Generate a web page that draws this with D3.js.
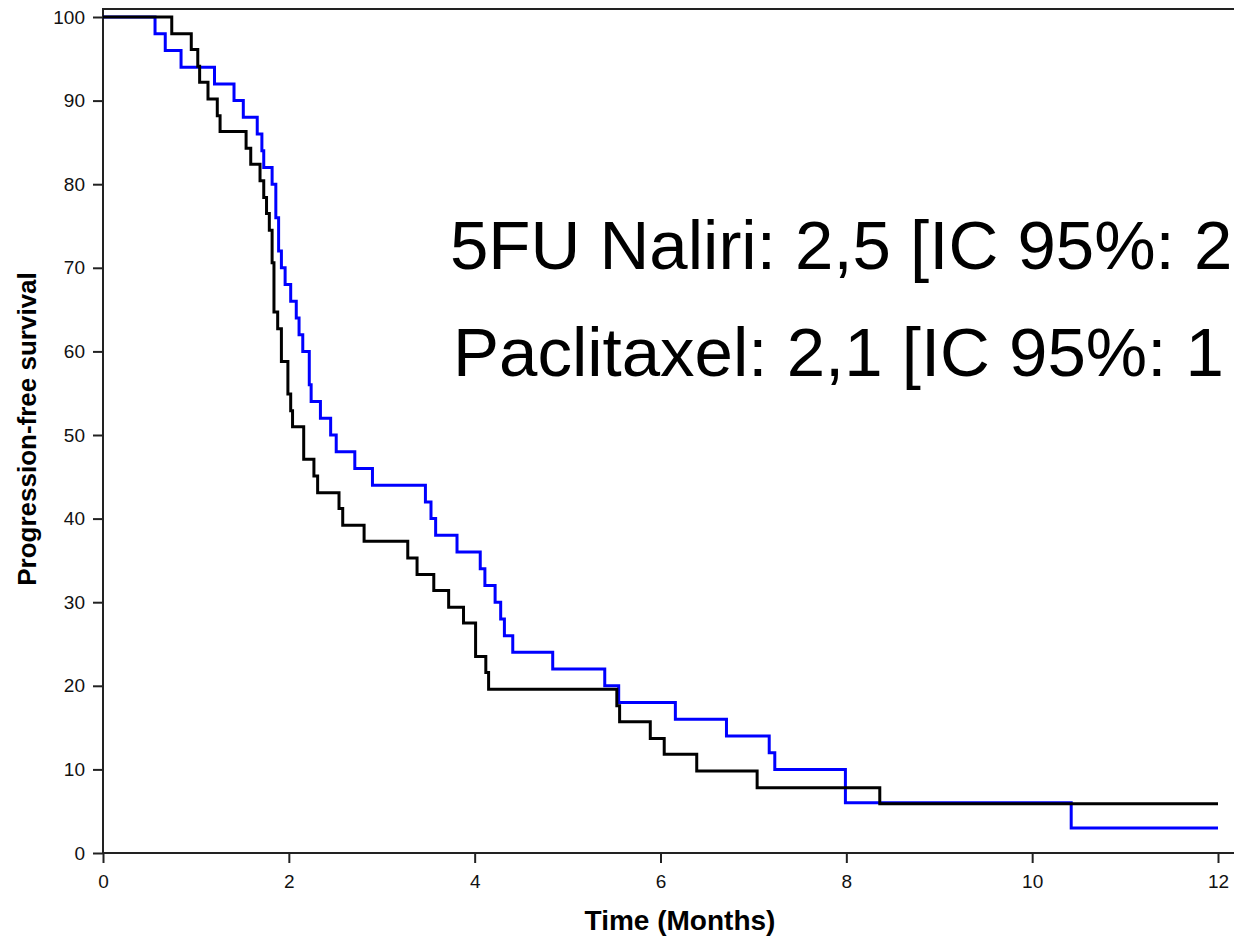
<!DOCTYPE html>
<html>
<head>
<meta charset="utf-8">
<script src="https://cdn.jsdelivr.net/npm/d3@7"></script>
<style>
  body { margin: 0; background: #fff; overflow: hidden; }
  svg { display: block; font-family: "Liberation Sans", Arial, sans-serif; }
</style>
</head>
<body>
<svg id="chart" width="1234" height="937"></svg>
<script>
// 5FU Naliri (blue)
let naliriTimes = [0, 0.56, 0.67, 0.84, 1.20, 1.41, 1.51, 1.66, 1.71, 1.73, 1.82, 1.86, 1.89, 1.92, 1.96, 2.02, 2.08, 2.11, 2.15, 2.22, 2.24, 2.34, 2.45, 2.51, 2.71, 2.90, 3.47, 3.53, 3.58, 3.81, 4.06, 4.11, 4.22, 4.28, 4.32, 4.41, 4.84, 5.40, 5.55, 6.16, 6.71, 7.17, 7.23, 7.99, 10.42, 12]
let naliriSurv  = [100, 98, 96, 94, 92, 90, 88, 86, 84, 82, 80, 76, 72, 70, 68, 66, 64, 62, 60, 56, 54, 52, 50, 48, 46, 44, 42, 40, 38, 36, 34, 32, 30, 28, 26, 24, 22, 20, 18, 16, 14, 12, 10, 6, 3, 3]

// Paclitaxel (black)
let pacliTimes = [0, 0.74, 0.95, 1.02, 1.04, 1.13, 1.23, 1.26, 1.54, 1.59, 1.69, 1.73, 1.76, 1.79, 1.82, 1.84, 1.88, 1.92, 1.99, 2.02, 2.04, 2.16, 2.27, 2.31, 2.54, 2.58, 2.81, 3.28, 3.38, 3.56, 3.72, 3.88, 4.01, 4.12, 4.15, 5.53, 5.56, 5.89, 6.04, 6.39, 7.04, 8.36, 12]
let pacliSurv  = [100, 98, 96.1, 94.1, 92.2, 90.2, 88.2, 86.3, 84.3, 82.4, 80.4, 78.4, 76.5, 74.5, 70.6, 64.7, 62.7, 58.8, 54.9, 52.9, 51.0, 47.1, 45.1, 43.1, 41.2, 39.2, 37.3, 35.3, 33.3, 31.4, 29.4, 27.5, 23.5, 21.6, 19.6, 17.6, 15.7, 13.7, 11.8, 9.8, 7.8, 5.9, 5.9]

let xTicks = [0, 2, 4, 6, 8, 10, 12]
let yTicks = [0, 10, 20, 30, 40, 50, 60, 70, 80, 90, 100]

// median PFS annotations (run off the right edge, as in the source)
let labels = ["5FU Naliri: 2,5 [IC 95%: 2", "Paclitaxel: 2,1 [IC 95%: 1"]

let svg = d3.select("#chart")

let x = d3.scaleLinear().domain([0, 12]).range([103, 1218])
let y = d3.scaleLinear().domain([0, 100]).range([853, 17])

// frame (right side falls outside the picture)
svg.append("rect")
   .attr("x", 103).attr("y", 9)
   .attr("width", 1160).attr("height", 844)
   .attr("fill", "none")
   .attr("stroke", "#222")
   .attr("stroke-width", 2)

let yAxis = svg.append("g")
   .attr("transform", "translate(103,0)")
   .call(d3.axisLeft(y).tickValues(yTicks).tickSize(10).tickSizeOuter(0).tickPadding(8))
yAxis.select(".domain").remove()

let xAxis = svg.append("g")
   .attr("transform", "translate(0,853)")
   .call(d3.axisBottom(x).tickValues(xTicks).tickSize(10).tickSizeOuter(0).tickPadding(12))
xAxis.select(".domain").remove()

svg.selectAll(".tick line").attr("stroke", "#222").attr("stroke-width", 2)
svg.selectAll(".tick text")
   .attr("font-family", "Liberation Sans, Arial, sans-serif")
   .attr("font-size", 19)
   .attr("fill", "#111")

let line = d3.line()
   .x(function(d) { return x(d[0]) })
   .y(function(d) { return y(d[1]) })
   .curve(d3.curveStepAfter)

svg.append("path")
   .datum(d3.zip(naliriTimes, naliriSurv))
   .attr("d", line)
   .attr("fill", "none")
   .attr("stroke", "#0000ff")
   .attr("stroke-width", 3)

svg.append("path")
   .datum(d3.zip(pacliTimes, pacliSurv))
   .attr("d", line)
   .attr("fill", "none")
   .attr("stroke", "#000")
   .attr("stroke-width", 3)

svg.append("text")
   .attr("transform", "translate(36,429) rotate(-90)")
   .attr("text-anchor", "middle")
   .attr("font-size", 26)
   .attr("font-weight", "bold")
   .text("Progression-free survival")

svg.append("text")
   .attr("x", 680).attr("y", 930)
   .attr("text-anchor", "middle")
   .attr("font-size", 28)
   .attr("font-weight", "bold")
   .text("Time (Months)")

svg.selectAll(".median")
   .data(labels)
   .enter()
   .append("text")
   .attr("class", "median")
   .attr("x", function(d, i) { return i == 0 ? 450 : 453 })
   .attr("y", function(d, i) { return i == 0 ? 269 : 376 })
   .attr("font-size", 69)
   .attr("fill", "#000")
   .text(function(d) { return d })
</script>
</body>
</html>
